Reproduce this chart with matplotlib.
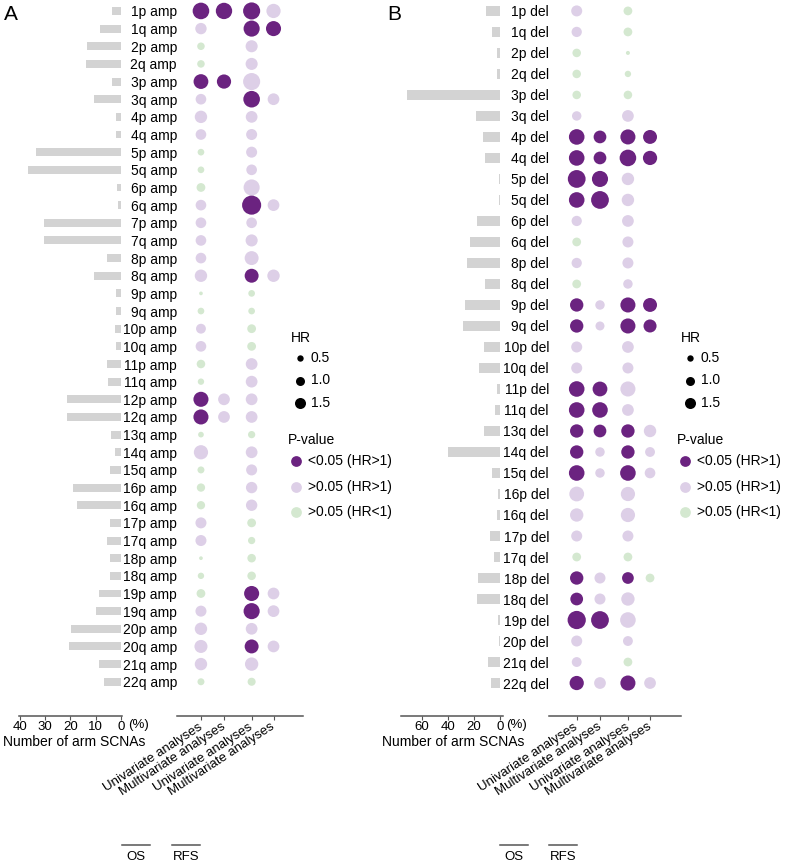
import matplotlib
matplotlib.use('Agg')
import matplotlib.pyplot as plt
import numpy as np

plt.rcParams['font.family'] = ['Liberation Sans', 'DejaVu Sans']
plt.rcParams['font.size'] = 10

# ---- data ----
# dot tokens: first letter = P-value class, rest = HR
#   D: <0.05 (HR>1), L: >0.05 (HR>1), G: >0.05 (HR<1), '' = not tested
amp_arms = ['1p', '1q', '2p', '2q', '3p', '3q', '4p', '4q', '5p', '5q', '6p', '6q', '7p', '7q',
            '8p', '8q', '9p', '9q', '10p', '10q', '11p', '11q', '12p', '12q', '13q', '14q', '15q',
            '16p', '16q', '17p', '17q', '18p', '18q', '19p', '19q', '20p', '20q', '21q', '22q']
amp_pct = [3.5, 8.4, 13.6, 14.0, 3.4, 10.6, 1.8, 1.8, 33.7, 36.9, 1.6, 1.3, 30.3, 30.3,
           5.4, 10.6, 2.1, 2.1, 2.5, 1.8, 5.5, 5.0, 21.2, 21.4, 3.8, 2.5, 4.2,
           18.8, 17.5, 4.4, 5.5, 4.2, 4.2, 8.7, 9.7, 19.7, 20.4, 8.6, 6.8]
amp_os_uni = ['D3.4', 'L1.6', 'G0.7', 'G0.7', 'D2.7', 'L1.4', 'L1.9', 'L1.4', 'G0.55', 'G0.55',
              'G0.95', 'L1.4', 'L1.4', 'L1.4', 'L1.4', 'L1.9', 'G0.17', 'G0.55', 'L1.2', 'L1.4',
              'G0.9', 'G0.5', 'D2.8', 'D2.8', 'G0.4', 'L2.5', 'G0.6', 'G0.85', 'G0.85', 'L1.5',
              'L1.5', 'G0.17', 'G0.5', 'G0.95', 'L1.5', 'L1.9', 'L2.1', 'L1.9', 'G0.6']
amp_os_multi = ['D3.3', '', '', '', 'D2.5', '', '', '', '', '', '', '', '', '', '', '', '', '',
                '', '', '', '', 'L1.7', 'L1.7', '', '', '', '', '', '', '', '', '', '', '', '',
                '', '', '']
amp_rfs_uni = ['D3.6', 'D3.2', 'L1.8', 'L1.8', 'L3.6', 'D3.4', 'L1.7', 'L1.5', 'L1.5', 'L1.4',
               'L3.2', 'D4.5', 'L1.4', 'L1.8', 'L2.4', 'D2.4', 'G0.55', 'G0.55', 'G0.95', 'G0.95',
               'L1.7', 'L1.7', 'L1.7', 'L1.7', 'G0.65', 'L1.7', 'L1.5', 'L1.6', 'L1.6', 'G0.95',
               'G0.65', 'G0.9', 'G0.9', 'D2.8', 'D3.2', 'L1.7', 'D2.4', 'L2.2', 'G0.8']
amp_rfs_multi = ['L2.5', 'D2.8', '', '', '', 'L1.7', '', '', '', '', '', 'L1.7', '', '', '',
                 'L1.9', '', '', '', '', '', '', '', '', '', '', '', '', '', '', '', '', '',
                 'L1.7', 'L1.7', '', 'L1.7', '', '']

del_arms = ['1p', '1q', '2p', '2q', '3p', '3q', '4p', '4q', '5p', '5q', '6p', '6q', '8p', '8q',
            '9p', '9q', '10p', '10q', '11p', '11q', '13q', '14q', '15q', '16p', '16q', '17p',
            '17q', '18p', '18q', '19p', '20p', '21q', '22q']
del_pct = [11.0, 6.4, 2.0, 2.0, 71.0, 18.7, 13.0, 11.8, 1.0, 1.0, 18.0, 23.3, 25.6, 11.8,
           27.0, 28.0, 12.3, 16.0, 2.5, 3.5, 12.5, 39.7, 5.8, 1.2, 2.5, 8.0,
           4.6, 17.0, 17.4, 1.5, 0.8, 9.2, 6.6]
del_os_uni = ['L1.5', 'L1.3', 'G0.9', 'G0.9', 'G0.9', 'L1.1', 'D3.0', 'D3.0', 'D3.9', 'D3.0',
              'L1.3', 'G0.95', 'L1.3', 'G0.95', 'D2.2', 'D2.2', 'L1.5', 'L1.5', 'D3.0', 'D3.0',
              'D2.2', 'D2.2', 'D3.0', 'L2.7', 'L2.2', 'L1.5', 'G0.95', 'D2.2', 'D2.0', 'D4.1',
              'L1.5', 'L1.2', 'D2.5']
del_os_multi = ['', '', '', '', '', '', 'D2.0', 'D2.0', 'D3.2', 'D3.9', '', '', '', '',
                'L1.1', 'L1.0', '', '', 'D2.7', 'D3.0', 'D2.0', 'L1.1', 'L1.1', '', '', '',
                '', 'L1.5', 'L1.5', 'D3.9', '', '', 'L1.7']
del_rfs_uni = ['G0.95', 'G0.95', 'G0.2', 'G0.5', 'G0.9', 'L1.7', 'D2.8', 'D3.4', 'L1.9', 'L1.9',
               'L1.7', 'L1.5', 'L1.5', 'L1.1', 'D2.8', 'D2.8', 'L1.7', 'L1.5', 'L2.8', 'L1.7',
               'D2.2', 'D2.2', 'D3.0', 'L2.5', 'L2.5', 'L1.5', 'G0.95', 'D1.7', 'L2.2', 'L3.0',
               'L1.2', 'G0.95', 'D2.8']
del_rfs_multi = ['', '', '', '', '', '', 'D2.4', 'D2.5', '', '', '', '', '', '',
                 'D2.4', 'D2.1', '', '', '', '', 'L1.9', 'L1.2', 'L1.4', '', '', '',
                 '', 'G0.95', '', '', '', '', 'L1.7']

analyses = ['Univariate analyses', 'Multivariate analyses',
            'Univariate analyses', 'Multivariate analyses']
legend_hr = [0.5, 1.0, 1.5]
legend_p = ['<0.05 (HR>1)', '>0.05 (HR>1)', '>0.05 (HR<1)']

COLORS = {'D': '#6b2380', 'L': '#ddcfe7', 'G': '#d4e8d0'}
BAR_COLOR = '#d3d3d3'
AXIS_GREY = '#555555'
HR_SCALE = 42  # marker area (pt^2) per unit HR
COL_X = [0, 1, 2.2, 3.15]
SMALL = 9.5
W, H = 788, 864

fig = plt.figure(figsize=(W / 100, H / 100), dpi=100)


def px_axes(x0, y0, x1, y1):
    return fig.add_axes([x0 / W, 1 - y1 / H, (x1 - x0) / W, (y1 - y0) / H])


def bottom_only(ax):
    for side in ['top', 'right', 'left']:
        ax.spines[side].set_visible(False)
    ax.spines['bottom'].set_color(AXIS_GREY)
    ax.spines['bottom'].set_linewidth(1.1)
    ax.set_facecolor('none')
    ax.tick_params(axis='x', colors=AXIS_GREY, length=3, width=0.8, labelcolor='black')


def draw_panel(arms, pct, columns, bar_box, bar_xlim, bar_ticks, dot_box, dot_xlim, ylim, suffix):
    y = np.arange(len(arms))

    ax_bar = px_axes(*bar_box)
    ax_bar.barh(y, pct, height=0.45, color=BAR_COLOR)
    ax_bar.set_xlim(*bar_xlim)
    ax_bar.set_ylim(*ylim)
    ax_bar.set_yticks([])
    ax_bar.set_xticks(bar_ticks)
    bottom_only(ax_bar)
    ax_bar.tick_params(axis='x', pad=0.5, labelsize=SMALL)

    ax_dot = px_axes(*dot_box)
    for xpos, col in zip(COL_X, columns):
        pts = [(i, t) for i, t in enumerate(col) if t]
        ax_dot.scatter([xpos] * len(pts), [i for i, _ in pts],
                       s=[HR_SCALE * float(t[1:]) for _, t in pts],
                       c=[COLORS[t[0]] for _, t in pts], linewidths=0, clip_on=False)
    ax_dot.set_xlim(*dot_xlim)
    ax_dot.set_ylim(*ylim)
    ax_dot.set_yticks(y)
    ax_dot.set_yticklabels([a + suffix for a in arms])
    ax_dot.tick_params(axis='y', length=0, pad=0)
    ax_dot.set_xticks(COL_X)
    ax_dot.set_xticklabels(analyses, rotation=33, ha='right', va='center',
                           rotation_mode='anchor', fontsize=SMALL)
    bottom_only(ax_dot)
    ax_dot.tick_params(axis='x', pad=4)
    return ax_bar, ax_dot


draw_panel(amp_arms, amp_pct, [amp_os_uni, amp_os_multi, amp_rfs_uni, amp_rfs_multi],
           (19, 0, 122, 716), (40.3, -0.4), [40, 30, 20, 10, 0],
           (177, 0, 303, 716), (-1.04, 4.43), (39.94, -0.62), ' amp')
draw_panel(del_arms, del_pct, [del_os_uni, del_os_multi, del_rfs_uni, del_rfs_multi],
           (401, 0, 503, 716), (75.9, -2.3), [60, 40, 20, 0],
           (549, 0, 681, 716), (-1.19, 4.48), (33.57, -0.52), ' del')

# overlay in pixel coordinates for legends, brackets and panel letters
ov = fig.add_axes([0, 0, 1, 1], zorder=-1)
ov.set_xlim(0, W)
ov.set_ylim(H, 0)
ov.axis('off')

for letter, lx in [('A', 4), ('B', 387)]:
    ov.text(lx, 14, letter, fontsize=15, va='center', ha='left')

for x_pct, x_name in [(128, 74), (506, 453)]:
    ov.text(x_pct, 725, '(%)', va='center', ha='left', fontsize=SMALL)
    ov.text(x_name, 742, 'Number of arm SCNAs', va='center', ha='center', fontsize=10)

for os_x, rfs_x in [(122, 172), (500, 549)]:
    for x0, name in [(os_x, 'OS'), (rfs_x, 'RFS')]:
        ov.plot([x0, x0 + 28], [845, 845], color=AXIS_GREY, lw=1.1)
        ov.text(x0 + 14, 857, name, va='center', ha='center', fontsize=SMALL)

for hr_x, p_x in [(291, 288), (681, 677)]:
    ov.text(hr_x, 338, 'HR', va='center', ha='left')
    for k, hr in enumerate(legend_hr):
        yy = 358 + 22.5 * k
        ov.scatter(hr_x + 9, yy, s=HR_SCALE * hr, color='black', linewidths=0)
        ov.text(hr_x + 20, yy, f'{hr:.1f}', va='center', ha='left')
    ov.text(p_x, 440, 'P-value', va='center', ha='left')
    for k, (lab, code) in enumerate(zip(legend_p, 'DLG')):
        yy = 461 + 25.7 * k
        ov.scatter(p_x + 8, yy, s=60, color=COLORS[code], linewidths=0)
        ov.text(p_x + 20, yy, lab, va='center', ha='left')

fig.savefig('out.png', dpi=100)
